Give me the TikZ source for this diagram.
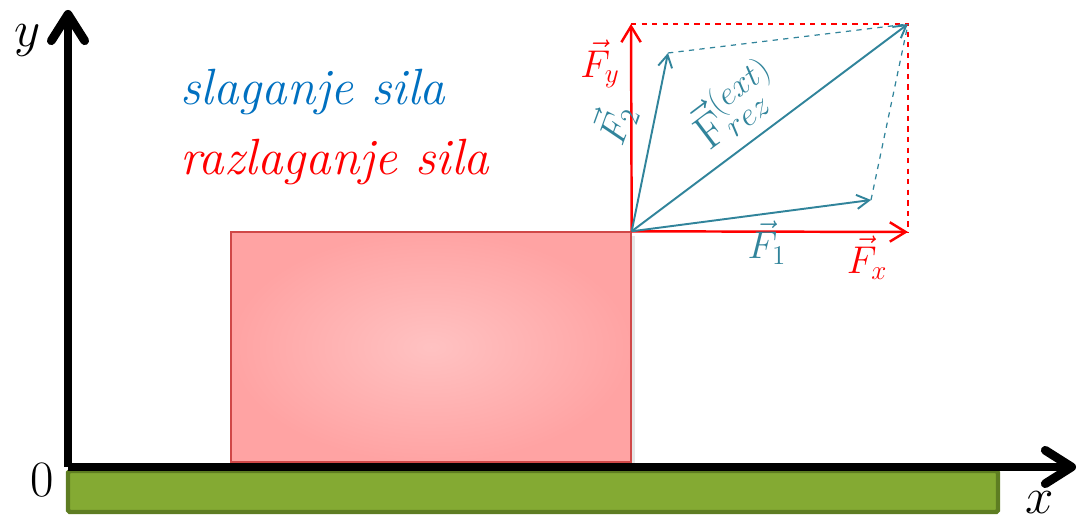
\RequirePackage{fix-cm}
\documentclass[tikz,border=0pt]{standalone}
\usepackage{amsmath}
\usepackage{fontspec}
\usepackage{tikz}
\usetikzlibrary{arrows.meta,shadows}
\definecolor{tirkiz}{HTML}{31849B}
\definecolor{plava}{HTML}{0070C0}
\definecolor{trava}{HTML}{84AA33}
\definecolor{travarub}{HTML}{5E7D22}
\definecolor{blokrub}{HTML}{D04848}

\begin{document}
\begin{tikzpicture}[x=0.02cm,y=-0.02cm,
  osa/.style={line width=5pt,-{Straight Barb[length=15pt,width=19pt,round]}},
  crv/.style={red,line width=1.4pt,-{Straight Barb[length=9pt,width=11pt]}},
  tir/.style={tirkiz,line width=1.1pt,-{Straight Barb[length=7pt,width=8pt]}},
  sila/.style={font=\fontsize{22}{26}\selectfont,inner sep=1pt},
  velik/.style={font=\fontsize{29}{33}\selectfont}]
\useasboundingbox (0,0) rectangle (1080,526);
% podloga i tijelo
\fill[trava,draw=travarub,line width=2.5pt,rounded corners=1pt] (68,471) rectangle (998,512);
\node[draw=blokrub,line width=0.8pt,shading=radial,inner color=red!24!white,outer color=red!36!white,
  minimum width=400*0.02cm,minimum height=230*0.02cm,inner sep=0pt,
  drop shadow={opacity=0.2,shadow xshift=2pt,shadow yshift=-2pt}] (blok) at (431,347) {};
% ose
\coordinate (ishod) at (68,467);
\coordinate (xkraj) at (1076,467);
\coordinate (ykraj) at (68,10);
\draw[osa] (ishod) -- (xkraj);
\draw[osa] (ishod) -- (ykraj);
\node[velik] (nula) at (42,480) {$0$};
\node[velik] (ylab) at (28,40) {$y$};
\node[velik] (xlab) at (1040,503) {$x$};
% natpisi
\node[velik,plava,anchor=base west,inner sep=0pt] (slag) at (180,105) {\itshape slaganje sila};
\node[velik,red,anchor=base west,inner sep=0pt] (razl) at (180,175) {\itshape razlaganje sila};
% sile
\coordinate (O) at (blok.north east);
\coordinate (Fxk) at (908,232);
\coordinate (Fyk) at (631,24);
\coordinate (R) at (908,24);
\coordinate (F1k) at (871,200);
\coordinate (F2k) at (668,53);
\draw[red,dashed,line width=0.7pt] (Fyk) -- (R) -- (Fxk);
\draw[crv] (O) -- (Fxk);
\draw[crv] (O) -- (Fyk);
\draw[tirkiz,dashed,line width=0.7pt] (F2k) -- (R) (F1k) -- (R);
\draw[tir] (O) -- (F1k);
\draw[tir] (O) -- (F2k);
\draw[tir] (O) -- (R);
\node[sila,red] (Fx) at (867,258) {$\vec{F}_x$};
\node[sila,red] (Fy) at (600,64) {$\vec{F}_y$};
\node[sila,tirkiz] (F1) at (767,243) {$\vec{F}_1$};
\node[sila,tirkiz,rotate=70] (F2) at (614,124) {$\vec{F}_2$};
\node[sila,tirkiz,rotate=37,font=\fontsize{27}{30}\selectfont] (Frez) at (735,104) {$\vec{\mathrm{F}}^{(ext)}_{rez}$};
\end{tikzpicture}
\end{document}
